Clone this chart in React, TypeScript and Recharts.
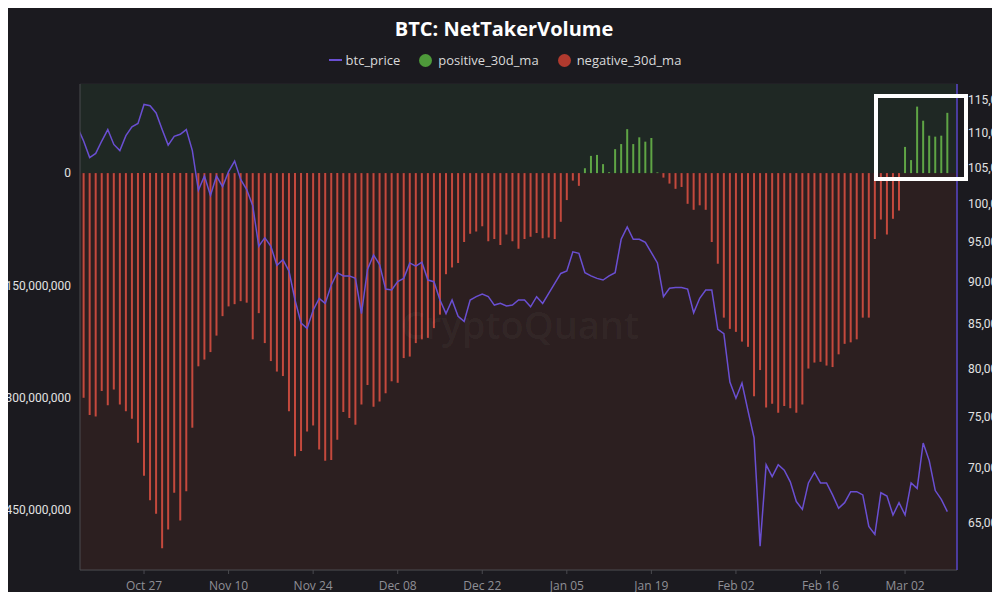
import React from 'react';
import {
  ComposedChart,
  Bar,
  Line,
  XAxis,
  YAxis,
  CartesianGrid,
  ReferenceArea,
} from 'recharts';

const FONT = '"Open Sans", "Noto Sans", sans-serif';
const TICK_FONT = 'Roboto, "Open Sans", sans-serif';

const PAGE_BG = '#1b1a1f';
const UPPER_BG = '#1f2824';
const LOWER_BG = '#2c1f20';
const RED = '#c4493d';
const GREEN = '#5fa545';
const PURPLE = '#6a4fd2';

// day 0 = Oct 16 (first point sits just left of the plot edge)
const TICK_DAYS = [11, 25, 39, 53, 67, 81, 95, 109, 123, 137];
const TICK_LABELS = ['Oct 27', 'Nov 10', 'Nov 24', 'Dec 08', 'Dec 22', 'Jan 05', 'Jan 19', 'Feb 02', 'Feb 16', 'Mar 02'];

const VOL_TICKS = [0, -150, -300, -450]; // millions
const PRICE_TICKS = [65000, 70000, 75000, 80000, 85000, 90000, 95000, 100000, 105000, 110000, 115000];

const BTC_PRICE = [
  110800, 108800, 106400, 107000, 108800, 110500, 108300, 107400, 109600, 110900, 111400,
  114300, 114100, 113000, 110500, 108200, 109500, 109800, 110500, 107400, 101800,
  103800, 101100, 103800, 102300, 104400, 105900, 103300, 101900, 99700, 94400,
  95500, 94400, 92000, 92700, 91300, 87800, 85100, 84500, 86600, 88000,
  87400, 89600, 91100, 90700, 90700, 90400, 86200, 91500, 93300, 92100,
  89100, 89000, 90000, 90400, 92300, 91900, 92400, 90200, 90000, 87800,
  86200, 87800, 85900, 85300, 87800, 88200, 88500, 88200, 87200, 87400,
  87100, 87200, 87800, 87800, 87000, 88200, 87400, 88600, 89800, 91000,
  91300, 93700, 93500, 91100, 90700, 90400, 90200, 90700, 91100, 95300,
  96900, 95300, 95300, 94900, 93600, 92300, 88200, 89200, 89300, 89300,
  89100, 86300, 88000, 89000, 89000, 84400, 83900, 78600, 76900, 78500,
  75600, 72900, 63000, 70300, 69200, 70300, 69800, 68700, 66900, 66200,
  68600, 69600, 68600, 68600, 67500, 66300, 66800, 67800, 67800, 67500,
  64700, 64000, 67700, 67400, 65700, 66800, 65700, 68600, 68100, 72400,
  70700, 67900, 67100, 66000,
];

// net taker volume 30d MA, millions
const NET_TAKER_30D_MA = [
  null,
  -300, -323, -325, -291, -310, -289, -309, -318, -328, -360, -404, -437,
  -455, -501, -476, -427, -464, -425, -340, -258, -249, -239, -217, -191,
  -178, -175, -171, -173, -222, -187, -227, -251, -265, -271, -318, -378,
  -371, -345, -337, -369, -384, -383, -356, -319, -327, -336, -309, -283,
  -312, -305, -294, -278, -280, -247, -245, -227, -222, -220, -207, -189,
  -135, -126, -120, -92, -81, -78, -71, -91, -88, -96, -82, -91,
  -101, -88, -85, -80, -87, -86, -88, -65, -36, -10, -17,
  6.5, 23, 24.3, 12, 1.2, 32, 38.8, 58.7, 38.8, 47.8, 42, 46.9, 1,
  -6, -14, -21, -18.5, -41, -49, -43, -49, -92, -121, -193, -208,
  -212, -225, -232, -298, -263, -313, -308, -320, -311, -314, -320, -309,
  -261, -253, -252, -257, -259, -242, -228, -226, -222, -193, -193, -88,
  -62, -82, -61, -50,
  35, 17.4, 88.8, 70, 50, 48.7, 50, 80.5,
];

const rows = BTC_PRICE.map((price, day) => {
  const v = NET_TAKER_30D_MA[day];
  return {
    day,
    price,
    positive: v != null && v > 0 ? v : null,
    negative: v != null && v <= 0 ? v : null,
  };
});

const fmtVol = (v: number) => (v * 1e6).toLocaleString('en-US');
const fmtPrice = (v: number) => v.toLocaleString('en-US');
const fmtDay = (d: number) => {
  const i = TICK_DAYS.indexOf(d);
  return i >= 0 ? TICK_LABELS[i] : '';
};

function LegendRow() {
  const item = { display: 'flex', alignItems: 'center', marginRight: 19 } as const;
  const dot = (c: string) => ({
    width: 13,
    height: 13,
    borderRadius: '50%',
    background: c,
    marginRight: 6,
  });
  return (
    <div
      style={{
        position: 'absolute',
        top: 51,
        left: 5,
        width: 1000,
        display: 'flex',
        justifyContent: 'center',
        fontFamily: FONT,
        fontSize: 13,
        color: '#d9d9d9',
      }}
    >
      <div style={item}>
        <div style={{ width: 13, height: 2, background: PURPLE, marginRight: 4 }} />
        btc_price
      </div>
      <div style={item}>
        <div style={dot('#4e9a3a')} />
        positive_30d_ma
      </div>
      <div style={{ ...item, marginRight: 0 }}>
        <div style={dot('#b03a2e')} />
        negative_30d_ma
      </div>
    </div>
  );
}

const yTick = { fill: '#e2e2e2', fontSize: 12, fontFamily: TICK_FONT };

export default function App() {
  return (
    <div
      style={{
        position: 'relative',
        width: 1000,
        height: 600,
        margin: -8,
        overflow: 'hidden',
        background: PAGE_BG,
        fontFamily: TICK_FONT,
      }}
    >
      <div
        style={{
          position: 'absolute',
          top: 15,
          left: 4,
          width: 1000,
          textAlign: 'center',
          fontFamily: FONT,
          fontSize: 20,
          fontWeight: 700,
          color: '#ffffff',
        }}
      >
        BTC: NetTakerVolume
      </div>
      <LegendRow />

      <ComposedChart
        width={1000}
        height={600}
        data={rows}
        margin={{ top: 84, right: 0, bottom: 0, left: 0 }}
        stackOffset="sign"
        barSize={2}
      >
        <ReferenceArea yAxisId="vol" y1={0} y2={119} fill={UPPER_BG} fillOpacity={1} strokeOpacity={0} />
        <ReferenceArea yAxisId="vol" y1={-530} y2={0} fill={LOWER_BG} fillOpacity={1} strokeOpacity={0} />
        <CartesianGrid yAxisId="price" vertical={false} stroke="rgba(255,255,255,0.06)" />

        <XAxis
          type="number"
          dataKey="day"
          domain={[0.4, 145.6]}
          ticks={TICK_DAYS}
          interval={0}
          tickFormatter={fmtDay}
          allowDataOverflow
          height={30}
          stroke="#4a4a4f"
          tickSize={4}
          tickMargin={7}
          tick={{ fill: '#8f8f96', fontSize: 12, fontFamily: FONT }}
        />
        <YAxis
          yAxisId="vol"
          orientation="left"
          width={80}
          domain={[-530, 119]}
          ticks={VOL_TICKS}
          interval={0}
          allowDataOverflow
          tickFormatter={fmtVol}
          axisLine={{ stroke: '#4a4a4f' }}
          tickLine={false}
          tickSize={0}
          tickMargin={9}
          tick={yTick}
        />
        <YAxis
          yAxisId="price"
          orientation="right"
          width={43}
          scale="log"
          domain={[61000, 117500]}
          ticks={PRICE_TICKS}
          interval={0}
          allowDataOverflow
          tickFormatter={fmtPrice}
          axisLine={{ stroke: '#5a46c8', strokeWidth: 1.5 }}
          tickLine={false}
          tickSize={0}
          tickMargin={11}
          tick={yTick}
        />

        <Bar yAxisId="vol" dataKey="positive" stackId="v" fill={GREEN} isAnimationActive={false} />
        <Bar yAxisId="vol" dataKey="negative" stackId="v" fill={RED} isAnimationActive={false} />
        <Line
          yAxisId="price"
          dataKey="price"
          stroke={PURPLE}
          strokeWidth={1.5}
          dot={false}
          activeDot={false}
          isAnimationActive={false}
        />
      </ComposedChart>

      <div
        style={{
          position: 'absolute',
          left: 400,
          top: 298,
          width: 240,
          textAlign: 'center',
          fontFamily: FONT,
          fontSize: 38,
          fontWeight: 600,
          color: 'rgba(255,255,255,0.045)',
          pointerEvents: 'none',
        }}
      >
        CryptoQuant
      </div>

      <div
        style={{
          position: 'absolute',
          left: 874,
          top: 94,
          width: 94,
          height: 87,
          boxSizing: 'border-box',
          border: '4px solid #ffffff',
          pointerEvents: 'none',
        }}
      />
    </div>
  );
}
